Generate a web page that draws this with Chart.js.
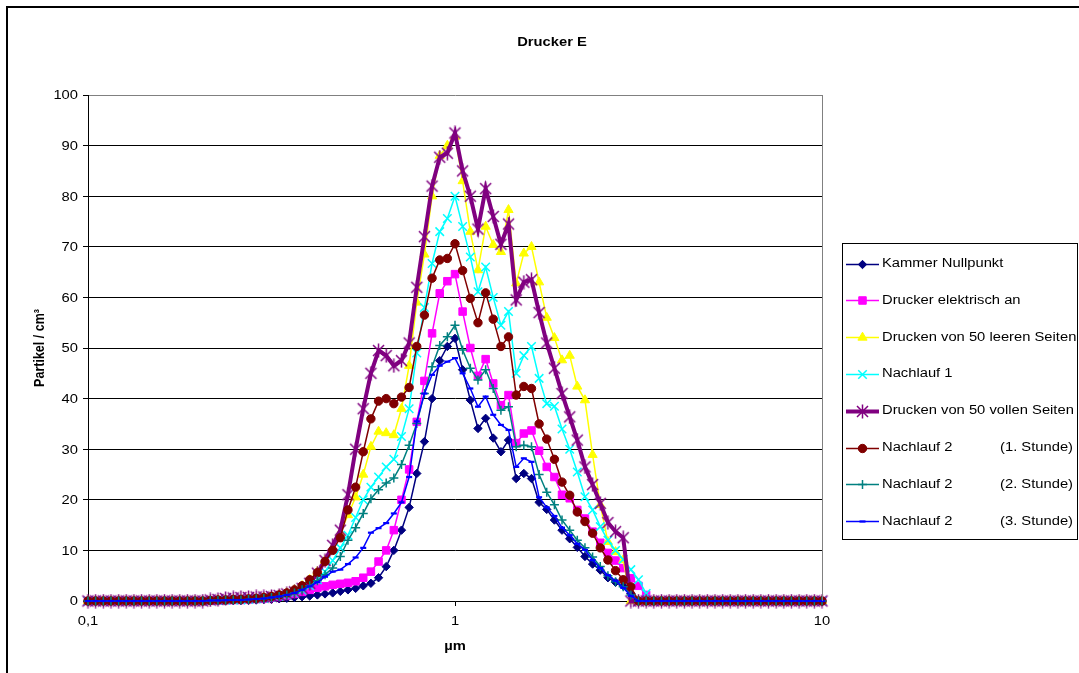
<!DOCTYPE html>
<html>
<head>
<meta charset="utf-8">
<title>Drucker E</title>
<script src="https://cdn.jsdelivr.net/npm/chart.js@4/dist/chart.umd.min.js"></script>
<style>
  html, body { margin: 0; padding: 0; background: #fff; }
  canvas { display: block; }
</style>
</head>
<body>
<canvas id="chart" width="1079" height="673"></canvas>
<script>
// --- Daten ---
const diameters = [
  0.1, 0.1049, 0.1101, 0.1155, 0.1212, 0.1271, 0.1334, 0.1399, 0.1468, 0.154, 0.1616, 0.1695, 0.1778, 0.1866, 0.1957, 0.2054,
  0.2154, 0.226, 0.2371, 0.2488, 0.261, 0.2738, 0.2873, 0.3014, 0.3162, 0.3318, 0.3481, 0.3652, 0.3831, 0.4019, 0.4217, 0.4424,
  0.4642, 0.487, 0.5109, 0.5361, 0.5623, 0.59, 0.619, 0.6494, 0.6813, 0.7148, 0.7499, 0.7868, 0.8254, 0.866, 0.9086, 0.9532,
  1.0, 1.049, 1.101, 1.155, 1.212, 1.271, 1.334, 1.399, 1.468, 1.54, 1.616, 1.695, 1.778, 1.866, 1.957, 2.054,
  2.154, 2.26, 2.371, 2.488, 2.61, 2.738, 2.873, 3.014, 3.162, 3.318, 3.481, 3.652, 3.831, 4.019, 4.217, 4.424,
  4.642, 4.87, 5.109, 5.361, 5.623, 5.9, 6.19, 6.494, 6.813, 7.148, 7.499, 7.868, 8.254, 8.66, 9.086, 9.532, 10.0
];

const kammerNullpunkt = [
  0, 0, 0, 0, 0, 0, 0, 0, 0, 0, 0, 0, 0, 0, 0, 0,
  0.1, 0.1, 0.1, 0.1, 0.1, 0.15, 0.2, 0.3, 0.35, 0.45, 0.55, 0.7, 0.85, 1.0, 1.2, 1.4,
  1.6, 1.9, 2.2, 2.5, 3.0, 3.5, 4.6, 6.8, 10, 14, 18.5, 25.2, 31.5, 40, 47.5, 50.3,
  51.9, 45.7, 39.7, 34.1, 36.1, 32.2, 29.5, 31.8, 24.2, 25.2, 24.2, 19.5, 18.1, 16, 14, 12.3,
  10.6, 8.8, 7.3, 6.1, 4.6, 3.7, 3.0, 1.5, 0, 0, 0, 0, 0, 0, 0, 0,
  0, 0, 0, 0, 0, 0, 0, 0, 0, 0, 0, 0, 0, 0, 0, 0, 0
];
const druckerElektrischAn = [
  0, 0, 0, 0, 0, 0, 0, 0, 0, 0, 0, 0, 0, 0, 0, 0,
  0.1, 0.1, 0.15, 0.2, 0.2, 0.3, 0.4, 0.5, 0.7, 0.9, 1.1, 1.4, 1.8, 2.2, 2.6, 2.9,
  3.2, 3.4, 3.6, 3.9, 4.6, 5.8, 7.8, 10, 14, 20, 26, 35.4, 43.5, 52.9, 60.8, 63.2,
  64.6, 57.2, 50, 44.5, 47.8, 43, 38.7, 40.7, 31.2, 33.1, 33.7, 29.7, 26.5, 24.5, 21, 20.3,
  18, 16.3, 13.7, 11.5, 9.5, 8, 6.5, 4.5, 3, 1.2, 0, 0, 0, 0, 0, 0,
  0, 0, 0, 0, 0, 0, 0, 0, 0, 0, 0, 0, 0, 0, 0, 0, 0
];
const leereSeiten = [
  0, 0, 0, 0, 0, 0, 0, 0, 0, 0, 0, 0, 0, 0, 0, 0,
  0.1, 0.2, 0.2, 0.3, 0.3, 0.4, 0.5, 0.7, 0.9, 1.2, 1.6, 2.2, 3, 4.2, 5.8, 8,
  10.5, 13.5, 17, 20.5, 25, 30.5, 33.5, 33.2, 32.8, 38, 46.5, 59, 68.5, 80, 88, 90,
  91.8, 83, 73, 65.4, 74, 70.4, 69, 77.3, 62.8, 68.7, 70, 63, 56, 52, 47.6, 48.5,
  42.4, 39.7, 28.9, 19, 11.7, 9.7, 8.1, 0, 0, 0, 0, 0, 0, 0, 0, 0,
  0, 0, 0, 0, 0, 0, 0, 0, 0, 0, 0, 0, 0, 0, 0, 0, 0
];
const nachlauf1 = [
  0, 0, 0, 0, 0, 0, 0, 0, 0, 0, 0, 0, 0, 0, 0, 0,
  0.1, 0.1, 0.15, 0.2, 0.2, 0.3, 0.4, 0.5, 0.7, 0.9, 1.2, 1.6, 2.2, 3, 4.2, 5.8,
  8, 10.5, 13, 16.5, 20, 22.5, 24.5, 26.5, 28, 32.5, 38, 49, 58, 66.7, 73, 75.6,
  80, 74, 68, 61.1, 66, 60, 54.5, 57.2, 45, 48.5, 50.3, 44, 39, 38.5, 34, 30,
  25.5, 20.6, 18, 14.7, 12, 10, 8.2, 6.2, 4.2, 1.5, 0, 0, 0, 0, 0, 0,
  0, 0, 0, 0, 0, 0, 0, 0, 0, 0, 0, 0, 0, 0, 0, 0, 0
];
const volleSeiten = [
  0, 0, 0, 0, 0, 0, 0, 0, 0, 0, 0, 0, 0, 0, 0, 0,
  0.2, 0.3, 0.5, 0.6, 0.7, 0.7, 0.8, 0.8, 0.9, 1.1, 1.4, 1.8, 2.5, 3.5, 5.5, 8,
  11, 14, 21, 30, 38, 45, 49.5, 48.5, 46.5, 47.5, 51, 62, 72, 82, 87.7, 88.5,
  92.5, 85, 80, 73.5, 81.5, 76, 70.5, 74.5, 59.5, 63, 63.5, 57, 51, 46, 41, 36.4,
  31.8, 26.5, 23, 19.3, 15.5, 13.7, 12.5, 0, 0, 0, 0, 0, 0, 0, 0, 0,
  0, 0, 0, 0, 0, 0, 0, 0, 0, 0, 0, 0, 0, 0, 0, 0, 0
];
const nachlauf2h1 = [
  0, 0, 0, 0, 0, 0, 0, 0, 0, 0, 0, 0, 0, 0, 0, 0,
  0.1, 0.2, 0.2, 0.3, 0.3, 0.4, 0.5, 0.7, 0.9, 1.2, 1.6, 2.2, 3, 4.2, 5.6, 7.8,
  10, 12.5, 18, 22.5, 29.5, 36, 39.5, 40, 39, 40.3, 42.2, 50.3, 56.5, 63.8, 67.4, 67.7,
  70.6, 65.3, 59.8, 55, 60.9, 55.7, 50.3, 52.2, 40.7, 42.4, 42, 35, 32, 28, 23.5, 20.9,
  17.6, 15.7, 13.4, 10.5, 8.1, 6, 4.2, 2.8, 0, 0, 0, 0, 0, 0, 0, 0,
  0, 0, 0, 0, 0, 0, 0, 0, 0, 0, 0, 0, 0, 0, 0, 0, 0
];
const nachlauf2h2 = [
  0, 0, 0, 0, 0, 0, 0, 0, 0, 0, 0, 0, 0, 0, 0, 0,
  0.1, 0.1, 0.15, 0.2, 0.2, 0.3, 0.4, 0.5, 0.7, 0.9, 1.2, 1.6, 2.2, 3, 4, 5.2,
  6.5, 8.8, 12, 14.5, 17.3, 20.2, 22, 23.3, 24.3, 27, 30.8, 35.1, 41, 46.3, 50.5, 52.2,
  54.5, 49.6, 46, 43.7, 45.7, 42, 37.7, 38.4, 30.5, 30.8, 30.5, 25, 21.5, 19, 16, 14,
  12, 10.5, 8.7, 6.8, 5, 3.8, 2.8, 1.2, 0, 0, 0, 0, 0, 0, 0, 0,
  0, 0, 0, 0, 0, 0, 0, 0, 0, 0, 0, 0, 0, 0, 0, 0, 0
];
const nachlauf2h3 = [
  0, 0, 0, 0, 0, 0, 0, 0, 0, 0, 0, 0, 0, 0, 0, 0,
  0.1, 0.1, 0.15, 0.2, 0.2, 0.3, 0.4, 0.5, 0.7, 0.9, 1.2, 1.6, 2.2, 2.9, 3.7, 4.8,
  5.8, 6.2, 7.3, 8.6, 10.5, 13.5, 14.4, 15.4, 17.3, 19.5, 24.5, 35.5, 41, 44.7, 46.5, 47.3,
  48, 45, 42, 38.4, 40.4, 36.8, 34.8, 33.8, 26.5, 28.2, 27.5, 20.5, 18.5, 16.8, 14.5, 13,
  11.3, 10.1, 8.1, 6.5, 5.1, 4, 2.6, 1, 0, 0, 0, 0, 0, 0, 0, 0,
  0, 0, 0, 0, 0, 0, 0, 0, 0, 0, 0, 0, 0, 0, 0, 0, 0
];

const seriesNames = [
  'Kammer Nullpunkt',
  'Drucker elektrisch an',
  'Drucken von 50 leeren Seiten',
  'Nachlauf 1',
  'Drucken von 50 vollen Seiten',
  'Nachlauf 2 (1. Stunde)',
  'Nachlauf 2 (2. Stunde)',
  'Nachlauf 2 (3. Stunde)'
];
const seriesValues = [kammerNullpunkt, druckerElektrischAn, leereSeiten, nachlauf1,
  volleSeiten, nachlauf2h1, nachlauf2h2, nachlauf2h3];

const yTicks = [0, 10, 20, 30, 40, 50, 60, 70, 80, 90, 100];
const xTicks = [0.1, 1, 10];
const xTickLabels = ['0,1', '1', '10'];

// --- Aussehen ---
const FONT = '"Liberation Sans", Arial, sans-serif';
const SX = 1.18; // Excel-Export ist horizontal etwas gestreckt

// Sternchen-Marker wie in Excel (X mit senkrechtem Strich)
function makeStar(color) {
    const c = document.createElement('canvas');
    c.width = 15; c.height = 15;
    const g = c.getContext('2d');
    g.strokeStyle = color;
    g.lineWidth = 1.5;
    g.beginPath();
    g.moveTo(2, 2); g.lineTo(13, 13);
    g.moveTo(13, 2); g.lineTo(2, 13);
    g.moveTo(7.5, 0.5); g.lineTo(7.5, 14.5);
    g.stroke();
    return c;
}

const styles = [
    { color: '#000080', pointStyle: 'rectRot', radius: 4.2, width: 1.5, pw: 1 },
    { color: '#FF00FF', pointStyle: 'rect', radius: 5.3, width: 1.5, pw: 1 },
    { color: '#FFFF00', pointStyle: 'triangle', radius: 5.3, width: 1.5, pw: 1 },
    { color: '#00FFFF', pointStyle: 'crossRot', radius: 6, width: 1.5, pw: 1.5 },
    { color: '#800080', pointStyle: makeStar('#800080'), radius: 7, width: 4, pw: 1 },
    { color: '#800000', pointStyle: 'circle', radius: 4.2, width: 1.5, pw: 1 },
    { color: '#008080', pointStyle: 'cross', radius: 4.5, width: 1.5, pw: 1.5 },
    { color: '#0000FF', pointStyle: 'line', radius: 3, width: 1.5, pw: 2.2 }
];

const datasets = seriesValues.map((vals, i) => ({
    label: seriesNames[i],
    data: diameters.map((d, j) => ({ x: d, y: vals[j] })),
    borderColor: styles[i].color,
    backgroundColor: styles[i].color,
    borderWidth: styles[i].width,
    pointStyle: styles[i].pointStyle,
    pointRadius: styles[i].radius,
    pointBorderWidth: styles[i].pw,
    pointBackgroundColor: styles[i].color,
    pointBorderColor: styles[i].color,
    tension: 0,
    clip: false,
    order: -i // wie Excel: spätere Reihen oben
}));

// Text etwas gestreckt zeichnen
function drawText(ctx, s, x, y, align, font, rotated) {
    ctx.save();
    ctx.translate(x, y);
    if (rotated) {
        ctx.rotate(-Math.PI / 2);
        ctx.scale(1, SX);
    } else {
        ctx.scale(SX, 1);
    }
    ctx.font = font;
    ctx.fillStyle = '#000';
    ctx.textAlign = align;
    ctx.textBaseline = 'middle';
    ctx.fillText(s, 0, 0);
    ctx.restore();
}

const excelLook = {
    id: 'excelLook',
    beforeDraw(chart) {
        const ctx = chart.ctx;
        ctx.save();
        ctx.fillStyle = '#fff';
        ctx.fillRect(0, 0, chart.width, chart.height);
        ctx.restore();
    },
    afterDraw(chart) {
        const { ctx, chartArea: a, scales: { x, y } } = chart;
        const normal = '12.5px ' + FONT;
        const bold = 'bold 12.5px ' + FONT;

        ctx.save();
        // rechter Rand der Zeichenfläche
        ctx.strokeStyle = '#808080';
        ctx.lineWidth = 1;
        ctx.beginPath();
        ctx.moveTo(Math.round(a.right) + 0.5, a.top);
        ctx.lineTo(Math.round(a.right) + 0.5, a.bottom);
        ctx.stroke();

        // äußerer Rahmen
        ctx.strokeStyle = '#000';
        ctx.lineWidth = 2;
        ctx.beginPath();
        ctx.moveTo(7, 700);
        ctx.lineTo(7, 7);
        ctx.lineTo(1200, 7);
        ctx.stroke();
        ctx.restore();

        // Achsenbeschriftungen
        yTicks.forEach(v => drawText(ctx, String(v), a.left - 10, y.getPixelForValue(v) + 1, 'right', normal));
        xTicks.forEach((v, i) => drawText(ctx, xTickLabels[i], x.getPixelForValue(v), a.bottom + 21, 'center', normal));

        drawText(ctx, 'Drucker E', 552, 43, 'center', bold);
        drawText(ctx, 'µm', (a.left + a.right) / 2, 647, 'center', bold);
        drawText(ctx, 'Partikel / cm³', 40, (a.top + a.bottom) / 2, 'center', bold, true);

        // Legende
        const lx = 842, ly = 243, lw = 236, lh = 296;
        ctx.save();
        ctx.strokeStyle = '#000';
        ctx.lineWidth = 1;
        ctx.strokeRect(lx + 0.5, ly + 0.5, lw - 1, lh);
        chart.data.datasets.forEach((ds, i) => {
            const cy = 263.5 + i * 36.8;
            ctx.strokeStyle = ds.borderColor;
            ctx.lineWidth = ds.borderWidth;
            ctx.beginPath();
            ctx.moveTo(846, Math.round(cy) + 0.5);
            ctx.lineTo(879, Math.round(cy) + 0.5);
            ctx.stroke();
            ctx.fillStyle = ds.pointBackgroundColor;
            ctx.strokeStyle = ds.pointBorderColor;
            ctx.lineWidth = ds.pointBorderWidth;
            Chart.helpers.drawPoint(ctx, {
                pointStyle: ds.pointStyle,
                radius: ds.pointRadius,
                rotation: 0,
                borderWidth: ds.pointBorderWidth
            }, 862.5, Math.round(cy) + 0.5);

            const name = ds.label;
            const cut = name.indexOf(' (');
            if (cut > 0) {
                drawText(ctx, name.slice(0, cut), 882, cy, 'left', normal);
                drawText(ctx, name.slice(cut + 1), 1073, cy, 'right', normal);
            } else {
                drawText(ctx, name, 882, cy, 'left', normal);
            }
        });
        ctx.restore();
    }
};

new Chart(document.getElementById('chart'), {
    type: 'line',
    data: { datasets },
    options: {
        responsive: false,
        animation: false,
        devicePixelRatio: 1,
        layout: { padding: { left: 0, right: 257, top: 95, bottom: 0 } },
        plugins: {
            legend: { display: false },
            title: { display: false },
            tooltip: { enabled: false }
        },
        scales: {
            x: {
                type: 'logarithmic',
                min: 0.1,
                max: 10,
                afterBuildTicks: s => { s.ticks = xTicks.map(v => ({ value: v })); },
                afterFit: s => { s.height = 72; },
                ticks: { display: false },
                grid: { drawOnChartArea: false, drawTicks: true, tickLength: 5, tickColor: '#000' },
                border: { color: '#000', width: 1 }
            },
            y: {
                min: 0,
                max: 100,
                afterBuildTicks: s => { s.ticks = yTicks.map(v => ({ value: v })); },
                afterFit: s => { s.width = 88; },
                ticks: { display: false },
                grid: {
                    color: c => (c.tick && c.tick.value === 100 ? '#808080' : '#000'),
                    lineWidth: 1,
                    drawTicks: true,
                    tickLength: 5,
                    tickColor: '#000'
                },
                border: { color: '#000', width: 1 }
            }
        }
    },
    plugins: [excelLook]
});
</script>
</body>
</html>
